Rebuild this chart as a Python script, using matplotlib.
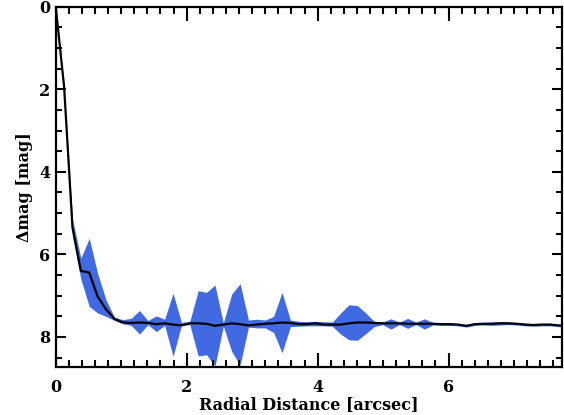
import numpy as np
import matplotlib
matplotlib.use('Agg')
import matplotlib.pyplot as plt
from matplotlib.ticker import MultipleLocator

# Radial profile sampled every 0.128 arcsec
radius = [0.000, 0.128, 0.256, 0.384, 0.512, 0.640, 0.768, 0.896, 1.024, 1.152,
          1.280, 1.408, 1.536, 1.664, 1.792, 1.920, 2.048, 2.176, 2.304, 2.432,
          2.560, 2.688, 2.816, 2.944, 3.072, 3.200, 3.328, 3.456, 3.584, 3.712,
          3.840, 3.968, 4.096, 4.224, 4.352, 4.480, 4.608, 4.736, 4.864, 4.992,
          5.120, 5.248, 5.376, 5.504, 5.632, 5.760, 5.888, 6.016, 6.144, 6.272,
          6.400, 6.528, 6.656, 6.784, 6.912, 7.040, 7.168, 7.296, 7.424, 7.552,
          7.680, 7.808]

dmag = [0.00, 1.94, 5.35, 6.40, 6.44, 7.02, 7.33, 7.56, 7.65, 7.66,
        7.65, 7.66, 7.69, 7.67, 7.70, 7.72, 7.67, 7.67, 7.68, 7.73,
        7.70, 7.67, 7.69, 7.72, 7.70, 7.68, 7.67, 7.65, 7.66, 7.69,
        7.69, 7.67, 7.70, 7.70, 7.70, 7.67, 7.65, 7.65, 7.66, 7.67,
        7.67, 7.67, 7.68, 7.68, 7.68, 7.68, 7.69, 7.69, 7.70, 7.73,
        7.69, 7.68, 7.68, 7.67, 7.67, 7.68, 7.70, 7.71, 7.70, 7.70,
        7.72, 7.73]

dmag_upper = [0.00, 1.90, 5.15, 6.09, 5.61, 6.46, 7.10, 7.52, 7.58, 7.55,
              7.36, 7.60, 7.49, 7.57, 6.94, 7.65, 7.62, 6.88, 6.92, 6.74,
              7.66, 6.96, 6.71, 7.59, 7.57, 7.59, 7.50, 6.92, 7.59, 7.62,
              7.63, 7.62, 7.63, 7.64, 7.42, 7.22, 7.24, 7.42, 7.62, 7.64,
              7.56, 7.64, 7.55, 7.64, 7.56, 7.65, 7.66, 7.66, 7.67, 7.70,
              7.66, 7.65, 7.64, 7.63, 7.64, 7.65, 7.67, 7.68, 7.67, 7.67,
              7.69, 7.70]

dmag_lower = [0.05, 2.00, 5.55, 6.60, 7.26, 7.42, 7.50, 7.60, 7.68, 7.72,
              7.93, 7.70, 7.87, 7.72, 8.47, 7.72, 7.70, 8.46, 8.43, 8.70,
              7.74, 8.35, 8.68, 7.76, 7.78, 7.78, 7.89, 8.38, 7.75, 7.74,
              7.73, 7.73, 7.73, 7.74, 7.93, 8.07, 8.08, 7.92, 7.75, 7.70,
              7.81, 7.70, 7.79, 7.70, 7.81, 7.71, 7.72, 7.72, 7.73, 7.76,
              7.72, 7.71, 7.72, 7.71, 7.70, 7.71, 7.73, 7.74, 7.73, 7.73,
              7.75, 7.76]

plt.rcParams['font.family'] = ['DejaVu Serif']
plt.rcParams['font.weight'] = 'bold'

fig = plt.figure(figsize=(5.64, 4.15), dpi=100)
ax = fig.add_axes([0.0988, 0.1164, 0.8985, 0.8675])

ax.fill_between(radius, dmag_upper, dmag_lower, color='royalblue', linewidth=0)
ax.plot(radius, dmag, color='black', linewidth=1.6)

ax.set_xlim(0, 7.74)
ax.set_ylim(8.72, 0)

ax.xaxis.set_major_locator(MultipleLocator(2))
ax.xaxis.set_minor_locator(MultipleLocator(0.2))
ax.yaxis.set_major_locator(MultipleLocator(2))
ax.yaxis.set_minor_locator(MultipleLocator(0.5))

ax.tick_params(axis='x', which='major', direction='in', length=10, width=1.5,
               top=True, labelsize=11.5, pad=9)
ax.tick_params(axis='x', which='minor', direction='in', length=5, width=1.5, top=True)
ax.tick_params(axis='y', which='major', direction='in', length=7, width=1.5,
               right=True, labelsize=11.5, pad=4)
ax.tick_params(axis='y', which='minor', direction='in', length=4, width=1.5, right=True)

for lab in ax.get_xticklabels() + ax.get_yticklabels():
    lab.set_fontweight('bold')

for s in ax.spines.values():
    s.set_linewidth(1.6)

ax.set_xlabel('Radial Distance [arcsec]', fontsize=11.5, fontweight='bold', labelpad=0)
ax.set_ylabel('\u0394mag [mag]', fontsize=11.5, fontweight='bold', labelpad=4)

fig.savefig('out.png', dpi=100)
